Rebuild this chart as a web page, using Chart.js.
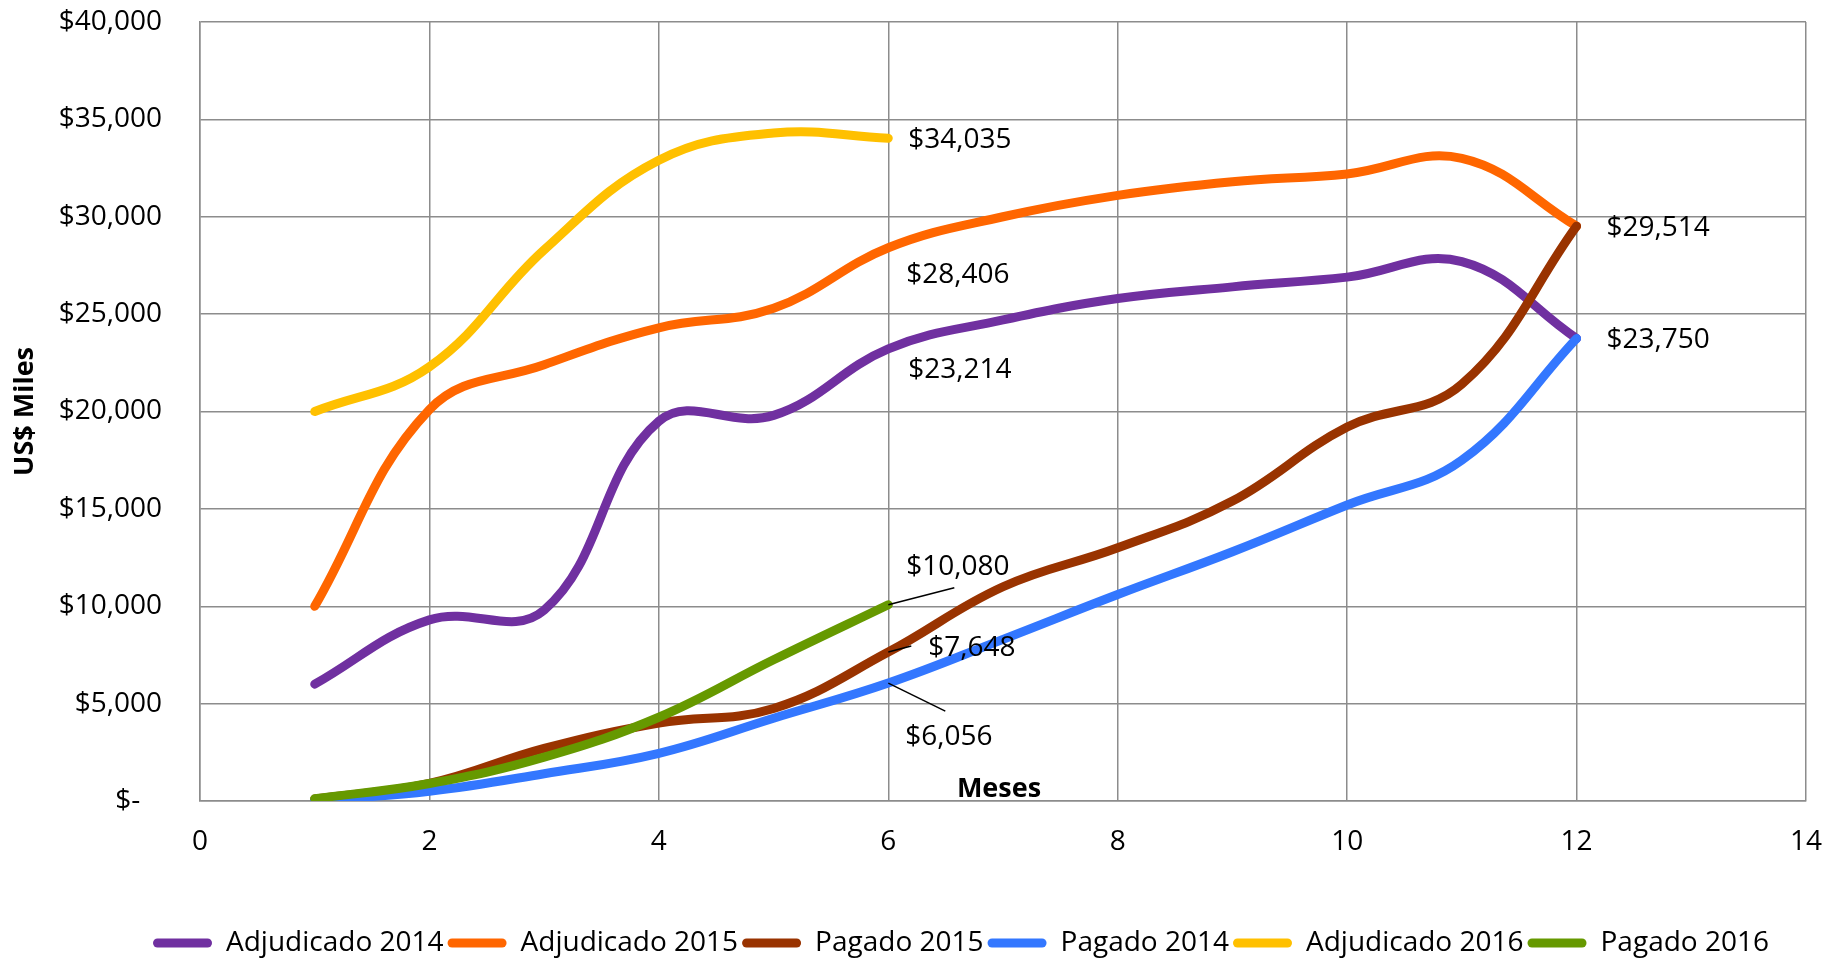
<!DOCTYPE html>
<html>
<head>
<meta charset="utf-8">
<script src="https://cdn.jsdelivr.net/npm/chart.js@4.4.1/dist/chart.umd.min.js"></script>
<style>
  body { margin: 0; background: #fff; }
  #wrap { width: 1827px; height: 959px; position: relative; }
</style>
</head>
<body>
<div id="wrap"><canvas id="chart"></canvas></div>
<script>
// Data (US$ miles, by month)
const months = [1, 2, 3, 4, 5, 6, 7, 8, 9, 10, 11, 12];
const seriesNames = ["Adjudicado 2014", "Adjudicado 2015", "Pagado 2015", "Pagado 2014", "Adjudicado 2016", "Pagado 2016"];
const adjudicado2014 = [6000, 9300, 9800, 19500, 19800, 23214, 24700, 25800, 26400, 26900, 27700, 23750];
const adjudicado2015 = [10000, 20100, 22400, 24300, 25300, 28406, 30000, 31100, 31800, 32200, 33000, 29514];
const pagado2015 = [100, 900, 2700, 4000, 4750, 7648, 11000, 13000, 15400, 19200, 21400, 29514];
const pagado2014 = [20, 500, 1400, 2450, 4250, 6056, 8300, 10600, 12800, 15200, 17500, 23750];
const adjudicado2016 = [20000, 22300, 28300, 32900, 34300, 34035];
const pagado2016 = [120, 900, 2250, 4300, 7250, 10080];
const seriesColors = ["#7030A0", "#FF6600", "#993300", "#3377FF", "#FFC000", "#669900"];
const xTicks = [0, 2, 4, 6, 8, 10, 12, 14];
const yMax = 40000;
const yStep = 5000;

const allSeries = [adjudicado2014, adjudicado2015, pagado2015, pagado2014, adjudicado2016, pagado2016];

// which points carry a value label, and where the label sits relative to the point
const pointLabels = [
  { ds: 4, idx: 5, dx: 20, dy: 2, leader: null },
  { ds: 1, idx: 5, dx: 18, dy: 27, leader: null },
  { ds: 0, idx: 5, dx: 20, dy: 21, leader: null },
  { ds: 5, idx: 5, dx: 18, dy: -38, leader: [66, -17] },
  { ds: 2, idx: 5, dx: 40, dy: -4, leader: [23, -6] },
  { ds: 3, idx: 5, dx: 17, dy: 54, leader: [57, 28] },
  { ds: 1, idx: 11, dx: 30, dy: 2, leader: null },
  { ds: 0, idx: 11, dx: 30, dy: 2, leader: null }
];

const fmtMoney = (v) => "$" + String(Math.round(v)).replace(/\B(?=(\d{3})+(?!\d))/g, ",");

const baseFont = '"Open Sans", "Liberation Sans", sans-serif';

const datasets = allSeries.map((vals, i) => ({
  label: seriesNames[i],
  data: vals.map((v, j) => ({ x: months[j], y: v })),
  borderColor: seriesColors[i],
  backgroundColor: seriesColors[i],
  borderWidth: 9,
  borderCapStyle: "round",
  borderJoinStyle: "round",
  pointRadius: 0,
  pointHoverRadius: 0,
  tension: 0.4,
  fill: false,
  order: -i
}));

// value labels + x axis title drawn inside the plot
const labelPlugin = {
  id: "valueLabels",
  afterLayout(chart) {
    // legend in the reference sits a bit right of the canvas centre
    chart.legend.left += 58;
    chart.legend.right += 58;
  },
  afterDatasetsDraw(chart) {
    const ctx = chart.ctx;
    ctx.save();
    ctx.font = "28px " + baseFont;
    ctx.fillStyle = "#000";
    ctx.textAlign = "left";
    ctx.textBaseline = "middle";
    pointLabels.forEach((lb) => {
      const pt = chart.getDatasetMeta(lb.ds).data[lb.idx];
      const val = allSeries[lb.ds][lb.idx];
      if (lb.leader) {
        ctx.strokeStyle = "#000";
        ctx.lineWidth = 1.5;
        ctx.beginPath();
        ctx.moveTo(pt.x, pt.y);
        ctx.lineTo(pt.x + lb.leader[0], pt.y + lb.leader[1]);
        ctx.stroke();
      }
      ctx.fillText(fmtMoney(val), pt.x + lb.dx, pt.y + lb.dy);
    });
    // "Meses" axis title sits just above the x axis
    const area = chart.chartArea;
    ctx.font = "bold 27px " + baseFont;
    ctx.textAlign = "center";
    ctx.fillText("Meses", (area.left + area.right) / 2 - 4, area.bottom - 12);
    ctx.restore();
  }
};

const gridColor = "#8c8c8c";

new Chart(document.getElementById("chart"), {
  type: "line",
  data: { datasets: datasets },
  options: {
    responsive: true,
    maintainAspectRatio: false,
    animation: false,
    layout: { padding: { top: 22, right: 21, bottom: -8, left: 0 } },
    plugins: {
      tooltip: { enabled: false },
      legend: {
        position: "bottom",
        labels: {
          font: { size: 28, family: baseFont },
          color: "#000",
          boxWidth: 59,
          boxHeight: 9,
          padding: 4,
          useBorderRadius: true,
          borderRadius: 4.5,
          sort: (a, b) => a.datasetIndex - b.datasetIndex,
          generateLabels: (chart) => {
            const items = Chart.defaults.plugins.legend.labels.generateLabels(chart);
            items.forEach((it) => {
              it.lineWidth = 0;
              it.fillStyle = seriesColors[it.datasetIndex];
            });
            return items;
          }
        }
      }
    },
    scales: {
      x: {
        type: "linear",
        min: 0,
        max: 14,
        afterBuildTicks: (scale) => {
          scale.ticks = xTicks.map((v) => ({ value: v }));
        },
        afterFit: (scale) => {
          scale.height = 124;
          scale.paddingLeft = 0;
          scale.paddingRight = 0;
        },
        grid: { color: gridColor, lineWidth: 1.5, drawTicks: false },
        border: { color: gridColor, width: 1.5 },
        ticks: {
          padding: 24,
          color: "#000",
          font: { size: 28, family: baseFont },
          maxRotation: 0
        }
      },
      y: {
        min: 0,
        max: yMax,
        afterFit: (scale) => {
          scale.width = 200;
          scale.paddingTop = 0;
          scale.paddingBottom = 0;
        },
        grid: { color: gridColor, lineWidth: 1.5, drawTicks: false },
        border: { color: gridColor, width: 1.5 },
        ticks: {
          stepSize: yStep,
          padding: 38,
          color: "#000",
          font: { size: 28, family: baseFont },
          callback: (v) => (v === 0 ? "$-   " : fmtMoney(v))
        },
        title: {
          display: true,
          text: "US$ Miles",
          color: "#000",
          font: { size: 27, weight: "bold", family: baseFont },
          padding: { top: 9, bottom: 0 }
        }
      }
    }
  },
  plugins: [labelPlugin]
});
</script>
</body>
</html>
